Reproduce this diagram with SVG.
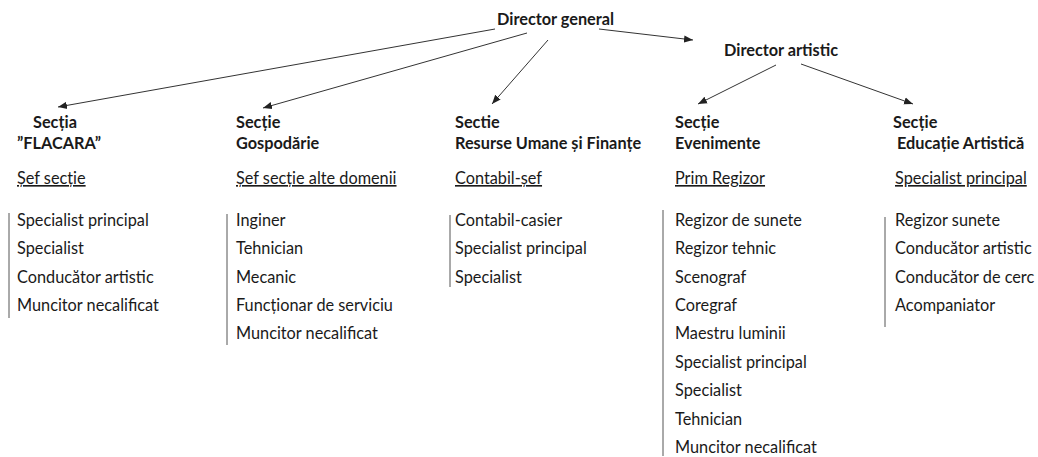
<svg xmlns="http://www.w3.org/2000/svg" width="1038" height="457" viewBox="0 0 1038 457">
<defs>
<marker id="ah" viewBox="0 0 10 10" refX="10" refY="5" markerWidth="9" markerHeight="9" markerUnits="userSpaceOnUse" orient="auto">
<path d="M0,1 L10,5 L0,9 Z" fill="#222"/>
</marker>
<style>
text{font-family:Lato,"Open Sans","Liberation Sans",sans-serif;font-size:16.3px;fill:#1a1a1a}
.b{font-weight:bold}
.u{text-decoration:underline}
.c line{stroke:#333;stroke-width:1;fill:none}
.c .a{marker-end:url(#ah)}
.bar{stroke:#555;stroke-width:1}
</style>
</defs>
<rect width="1038" height="457" fill="#fff"/>
<g class="c" id="connectors">
<line class="a" x1="495" y1="29" x2="58" y2="107"/>
<line class="a" x1="527" y1="33" x2="263" y2="108"/>
<line class="a" x1="548" y1="40" x2="492" y2="104"/>
<line class="a" x1="599" y1="29" x2="693" y2="40"/>
<line class="a" x1="776" y1="65" x2="698" y2="104"/>
<line class="a" x1="801" y1="64" x2="913" y2="104"/>
</g>
<g id="director-general"><text class="b" x="497" y="25">Director general</text></g>
<g id="director-artistic"><text class="b" x="724" y="56">Director artistic</text></g>
<g id="sectia-flacara">
<text class="b" x="33" y="128">Secția</text>
<text class="b" x="17" y="149">”FLACARA”</text>
<text class="u" x="17" y="184">Șef secție</text>
<line class="bar" x1="9" y1="213" x2="9" y2="318"/>
<text x="17" y="226">Specialist principal</text>
<text x="17" y="254">Specialist</text>
<text x="17" y="283">Conducător artistic</text>
<text x="17" y="311">Muncitor necalificat</text>
</g>
<g id="sectie-gospodarie">
<text class="b" x="236" y="128">Secție</text>
<text class="b" x="236" y="149">Gospodărie</text>
<text class="u" x="236" y="184">Șef secție alte domenii</text>
<line class="bar" x1="227" y1="214" x2="227" y2="345"/>
<text x="236" y="226">Inginer</text>
<text x="236" y="254">Tehnician</text>
<text x="236" y="283">Mecanic</text>
<text x="236" y="311">Funcționar de serviciu</text>
<text x="236" y="339">Muncitor necalificat</text>
</g>
<g id="sectie-resurse">
<text class="b" x="455" y="128">Sectie</text>
<text class="b" x="455" y="149">Resurse Umane și Finanțe</text>
<text class="u" x="455" y="184">Contabil-șef</text>
<line class="bar" x1="450" y1="215" x2="450" y2="287"/>
<text x="455" y="226">Contabil-casier</text>
<text x="455" y="254">Specialist principal</text>
<text x="455" y="283">Specialist</text>
</g>
<g id="sectie-evenimente">
<text class="b" x="675" y="128">Secție</text>
<text class="b" x="675" y="149">Evenimente</text>
<text class="u" x="675" y="184">Prim Regizor</text>
<line class="bar" x1="663" y1="210" x2="663" y2="456"/>
<text x="675" y="226">Regizor de sunete</text>
<text x="675" y="254">Regizor tehnic</text>
<text x="675" y="283">Scenograf</text>
<text x="675" y="311">Coregraf</text>
<text x="675" y="339">Maestru luminii</text>
<text x="675" y="368">Specialist principal</text>
<text x="675" y="396">Specialist</text>
<text x="675" y="425">Tehnician</text>
<text x="675" y="453">Muncitor necalificat</text>
</g>
<g id="sectie-educatie">
<text class="b" x="893" y="128">Secție</text>
<text class="b" x="897" y="149">Educație Artistică</text>
<text class="u" x="895" y="184">Specialist principal</text>
<line class="bar" x1="885" y1="217" x2="885" y2="327"/>
<text x="895" y="226">Regizor sunete</text>
<text x="895" y="254">Conducător artistic</text>
<text x="895" y="283">Conducător de cerc</text>
<text x="895" y="311">Acompaniator</text>
</g>
</svg>
